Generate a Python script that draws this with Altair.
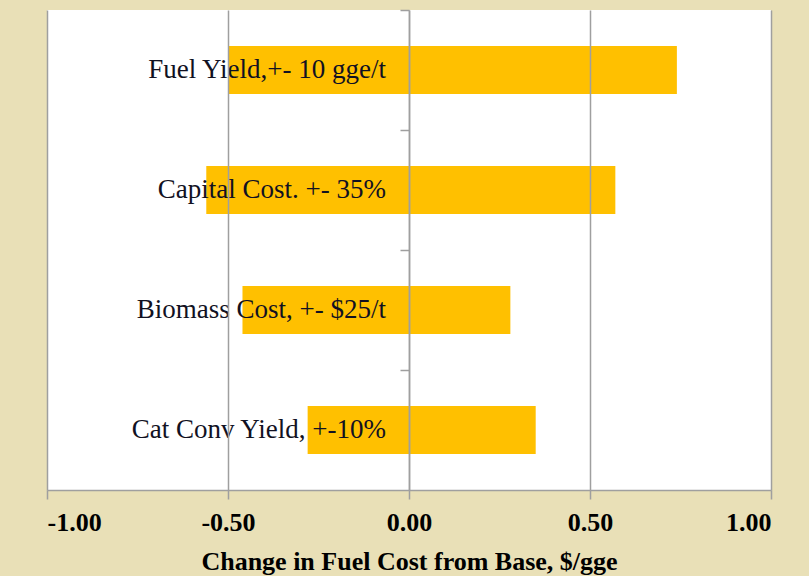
import altair as alt
import pandas as pd

factors = ["Fuel Yield,+- 10 gge/t", "Capital Cost. +- 35%", "Biomass Cost, +- $25/t", "Cat Conv Yield, +-10%"]
low = [-0.50, -0.56, -0.46, -0.28]
high = [0.74, 0.57, 0.28, 0.35]
x_ticks = [-1.0, -0.5, 0.0, 0.5, 1.0]

df = pd.DataFrame({"factor": factors, "low": low, "high": high})

GRAY = "#9F9F9F"
SERIF = "Liberation Serif"

y_enc = alt.Y(
    "factor:N",
    sort=factors,
    scale=alt.Scale(paddingInner=0.6, paddingOuter=0.3),
    axis=alt.Axis(
        orient="left", offset=-362, labels=False, title=None, grid=False,
        domainColor=GRAY, domainWidth=1.5, tickColor=GRAY, tickWidth=1.5,
        tickSize=9, tickOffset=-60, zindex=1,
    ),
)

x_scale = alt.Scale(domain=[-1, 1], nice=False, zero=False)

bars = alt.Chart(df).mark_bar(color="#FFC000").encode(
    x=alt.X(
        "low:Q", scale=x_scale,
        axis=alt.Axis(
            values=x_ticks,
            labelExpr="(datum.value < 0 ? '-' : '') + format(abs(datum.value), '.2f')",
            grid=True, gridColor=GRAY, gridWidth=1.5,
            domainColor=GRAY, domainWidth=1.5, tickColor=GRAY, tickWidth=1.5, tickSize=9,
            labelFont=SERIF, labelFontSize=26, labelFontWeight="bold", labelColor="black",
            labelPadding=10, title="Change in Fuel Cost from Base, $/gge",
            titleFont=SERIF, titleFontSize=26, titleFontWeight="bold", titleColor="black",
            titlePadding=13, zindex=1,
        ),
    ),
    x2="high:Q",
    y=y_enc,
)

labels = alt.Chart(df).mark_text(
    align="right", baseline="middle", font=SERIF, fontSize=27, color="#111122", dx=-23,
).encode(
    x=alt.datum(0, scale=x_scale),
    y=alt.Y("factor:N", sort=factors),
    text="factor:N",
)

chart = alt.layer(bars, labels).properties(
    width=724, height=480,
    background="#E9E0B7",
    padding={"left": 47, "top": 10, "right": 38, "bottom": 86},
    autosize=alt.AutoSizeParams(type="none"),
).configure_view(fill="white", stroke=None)

chart.save("out.html", embed_options={"renderer": "svg", "actions": False})
